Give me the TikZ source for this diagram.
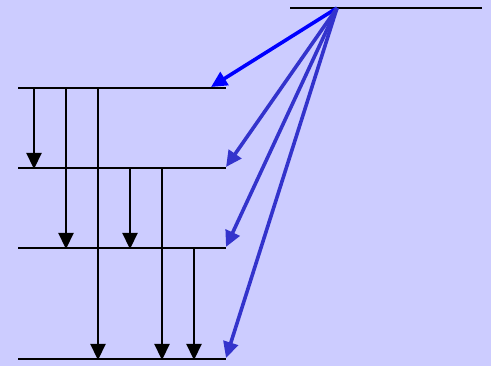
\documentclass[tikz,border=0pt]{standalone}
\usetikzlibrary{arrows.meta}
\definecolor{bgcol}{HTML}{CCCCFF}
\definecolor{bluea}{HTML}{0000FF}
\definecolor{blueb}{HTML}{3333CC}
\tikzset{
  level/.style={line width=2.2pt, black},
  decay/.style={line width=2.2pt, black, -{Triangle[width=15pt,length=16pt]}, shorten >=-1pt},
  pump/.style={line width=3.6pt, -{Triangle[width=15pt,length=16pt]}},
}
\begin{document}
\begin{tikzpicture}[x=1pt,y=-1pt]
  \fill[bgcol] (0,0) rectangle (491,366);
  \useasboundingbox (0,0) rectangle (491,366);
  % energy levels
  \coordinate (t0) at (290,8);   \coordinate (t1) at (482,8);
  \coordinate (src) at (337,8);
  \coordinate (a0) at (18,88);   \coordinate (a1) at (226,88);
  \coordinate (b0) at (18,168);  \coordinate (b1) at (226,168);
  \coordinate (c0) at (18,248);  \coordinate (c1) at (226,248);
  \coordinate (d0) at (18,359);  \coordinate (d1) at (226,359);
  \draw[level] (t0) -- (t1);
  \draw[level] (a0) -- (a1);
  \draw[level] (b0) -- (b1);
  \draw[level] (c0) -- (c1);
  \draw[level] (d0) -- (d1);
  % transitions from the upper level
  \coordinate (pa) at (211,87);
  \coordinate (pb) at (226,167);
  \coordinate (pc) at (226,247);
  \coordinate (pd) at (226,358);
  \draw[pump, bluea] (src) -- (pa);
  \draw[pump, blueb] (src) -- (pb);
  \draw[pump, blueb] (src) -- (pc);
  \draw[pump, blueb] (src) -- (pd);
  % cascade between lower levels
  \draw[decay] (34,88) -- (34,168);
  \draw[decay] (66,88) -- (66,248);
  \draw[decay] (98,88) -- (98,359);
  \draw[decay] (130,168) -- (130,248);
  \draw[decay] (162,168) -- (162,359);
  \draw[decay] (194,248) -- (194,359);
\end{tikzpicture}
\end{document}
